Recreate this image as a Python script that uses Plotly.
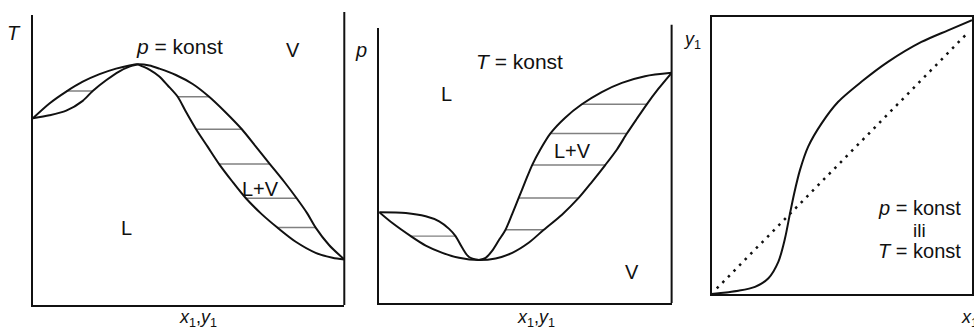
import plotly.graph_objects as go

# ---------------- data ----------------
# Panel 1: T - x,y diagram at p = konst (maximum azeotrope)
p1_vap_x = [0.000, 0.053, 0.107, 0.160, 0.214, 0.267, 0.310, 0.337, 0.374, 0.406, 0.459, 0.513,
            0.566, 0.620, 0.671, 0.716, 0.761, 0.807, 0.847, 0.881, 0.908, 0.951, 1.000]
p1_vap_y = [0.644, 0.695, 0.736, 0.770, 0.796, 0.815, 0.826, 0.830, 0.826, 0.815, 0.793, 0.762,
            0.718, 0.663, 0.606, 0.546, 0.486, 0.425, 0.368, 0.316, 0.267, 0.207, 0.157]
p1_liqL_x = [0.000, 0.053, 0.107, 0.160, 0.192, 0.235, 0.278, 0.310, 0.337]
p1_liqL_y = [0.644, 0.654, 0.670, 0.704, 0.738, 0.775, 0.806, 0.822, 0.830]
p1_liqR_x = [0.337, 0.374, 0.406, 0.433, 0.465, 0.491, 0.524, 0.561, 0.598, 0.641, 0.684,
             0.732, 0.785, 0.844, 0.908, 0.962, 1.000]
p1_liqR_y = [0.830, 0.812, 0.788, 0.757, 0.718, 0.667, 0.606, 0.546, 0.486, 0.425, 0.368,
             0.316, 0.267, 0.218, 0.180, 0.163, 0.157]
p1_tie_y = [0.738, 0.718, 0.606, 0.486, 0.368, 0.267]
p1_tie_x0 = [0.107, 0.465, 0.524, 0.598, 0.684, 0.785]
p1_tie_x1 = [0.192, 0.566, 0.671, 0.761, 0.847, 0.908]

# Panel 2: p - x,y diagram at T = konst (minimum azeotrope)
p2_liqL_x = [0.000, 0.091, 0.159, 0.205, 0.239, 0.261, 0.284, 0.307, 0.341]
p2_liqL_y = [0.326, 0.323, 0.311, 0.293, 0.266, 0.240, 0.198, 0.165, 0.154]
p2_liqR_x = [0.341, 0.364, 0.386, 0.409, 0.432, 0.455, 0.477, 0.500, 0.523, 0.551, 0.585,
             0.636, 0.693, 0.761, 0.830, 0.909, 1.000]
p2_liqR_y = [0.154, 0.162, 0.187, 0.225, 0.263, 0.320, 0.377, 0.437, 0.495, 0.551, 0.608,
             0.665, 0.713, 0.757, 0.790, 0.814, 0.826]
p2_vap_x = [0.000, 0.045, 0.108, 0.159, 0.216, 0.273, 0.341, 0.398, 0.455, 0.511, 0.563,
            0.625, 0.682, 0.727, 0.773, 0.813, 0.847, 0.881, 0.915, 0.955, 1.000]
p2_vap_y = [0.326, 0.287, 0.240, 0.206, 0.180, 0.162, 0.154, 0.160, 0.180, 0.216, 0.263,
            0.317, 0.377, 0.434, 0.495, 0.551, 0.608, 0.661, 0.713, 0.769, 0.826]
p2_tie_y = [0.240, 0.263, 0.377, 0.495, 0.608, 0.713]
p2_tie_x0 = [0.108, 0.432, 0.477, 0.523, 0.585, 0.693]
p2_tie_x1 = [0.261, 0.563, 0.682, 0.773, 0.847, 0.915]

# Panel 3: y1 - x1 equilibrium curve
p3_eq_x = [0.000, 0.102, 0.165, 0.216, 0.254, 0.279, 0.298, 0.314, 0.336, 0.367, 0.418,
           0.481, 0.569, 0.670, 0.797, 0.898, 0.989]
p3_eq_y = [0.000, 0.012, 0.026, 0.057, 0.117, 0.201, 0.291, 0.364, 0.448, 0.532, 0.616,
           0.694, 0.766, 0.838, 0.910, 0.952, 0.989]
p3_diag_x = [0.020, 0.975]
p3_diag_y = [0.020, 0.945]

# ---------------- figure ----------------
W, H = 974, 329
INK = "#111111"
TIE = "#808080"
FONT = "Liberation Sans, Arial, sans-serif"

fig = go.Figure()


def curve(x, y, ax):
    fig.add_trace(go.Scatter(x=x, y=y, mode="lines", xaxis="x" + ax, yaxis="y" + ax,
                             line=dict(color=INK, width=2, shape="spline", smoothing=0.8),
                             hoverinfo="skip", showlegend=False))


def ties(y, x0, x1, ax):
    xs, ys = [], []
    for a, b, v in zip(x0, x1, y):
        xs += [a, b, None]
        ys += [v, v, None]
    fig.add_trace(go.Scatter(x=xs, y=ys, mode="lines", xaxis="x" + ax, yaxis="y" + ax,
                             line=dict(color=TIE, width=1.4), hoverinfo="skip",
                             showlegend=False))


ties(p1_tie_y, p1_tie_x0, p1_tie_x1, "")
curve(p1_vap_x, p1_vap_y, "")
curve(p1_liqL_x, p1_liqL_y, "")
curve(p1_liqR_x, p1_liqR_y, "")

ties(p2_tie_y, p2_tie_x0, p2_tie_x1, "2")
curve(p2_liqL_x, p2_liqL_y, "2")
curve(p2_liqR_x, p2_liqR_y, "2")
curve(p2_vap_x, p2_vap_y, "2")

curve(p3_eq_x, p3_eq_y, "3")
fig.add_trace(go.Scatter(x=p3_diag_x, y=p3_diag_y, mode="lines", xaxis="x3", yaxis="y3",
                         line=dict(color=INK, width=2.5, dash="2.5px,5.5px"),
                         hoverinfo="skip", showlegend=False))


def dom_x(a, b):
    return [a / W, min(b / W, 1.0)]


def dom_y(top, bottom):
    return [1 - bottom / H, 1 - top / H]


ax_common = dict(showgrid=False, zeroline=False, showticklabels=False, ticks="",
                 showline=True, linecolor=INK, linewidth=2, fixedrange=True)

fig.update_layout(
    width=W, height=H, autosize=False,
    margin=dict(l=0, r=0, t=0, b=0),
    paper_bgcolor="white", plot_bgcolor="white",
    xaxis=dict(domain=dom_x(33, 345), range=[0, 1], anchor="y", **ax_common),
    yaxis=dict(domain=dom_y(15, 305), range=[0, 1], anchor="x", **ax_common),
    xaxis2=dict(domain=dom_x(380, 673), range=[0, 1], anchor="y2", **ax_common),
    yaxis2=dict(domain=dom_y(28, 303), range=[0.0, 0.9868], anchor="x2", **ax_common),
    xaxis3=dict(domain=dom_x(713, 974), range=[0, 0.989], anchor="y3", mirror=True, **ax_common),
    yaxis3=dict(domain=dom_y(17, 294), range=[0, 1], anchor="x3", mirror=True, **ax_common),
)

# right-hand frame lines of panels 1 and 2
fig.add_shape(type="line", xref="x domain", yref="y domain", x0=1, x1=1, y0=0, y1=1.01,
              line=dict(color=INK, width=2))
fig.add_shape(type="line", xref="x2 domain", yref="y2 domain", x0=1, x1=1, y0=0, y1=1.012,
              line=dict(color=INK, width=2))


def label(text, px, py, size=21, xanchor="center"):
    fig.add_annotation(text=text, x=px / W, y=1 - py / H, xref="paper", yref="paper",
                       showarrow=False, xanchor=xanchor, yanchor="middle",
                       font=dict(family=FONT, size=size, color=INK))


XY = "<i>x</i><sub>1</sub>,<i>y</i><sub>1</sub>"

# panel 1
label("<i>T</i>", 14, 33, 20)
label("<i>p</i> = konst", 180, 47, 21)
label("V", 294, 50, 20)
label("L", 127, 228, 20)
label("L+V", 261, 189, 20)
label(XY, 198, 318, 18)

# panel 2
label("<i>p</i>", 362, 50, 20)
label("<i>T</i> = konst", 521, 61, 21)
label("L", 447, 94, 20)
label("L+V", 574, 151, 20)
label("V", 633, 272, 20)
label(XY, 537, 318, 18)
label("<i>y</i><sub>1</sub>", 693, 40, 18)

# panel 3
label("<i>p</i> = konst", 921, 208, 20)
label("ili", 921, 230, 19)
label("<i>T</i> = konst", 921, 251, 20)
label("<i>x</i><sub>1</sub>", 961, 318, 18, xanchor="left")

fig.write_html("out.html", config={"displayModeBar": False},
               post_script="document.body.style.margin='0';")
